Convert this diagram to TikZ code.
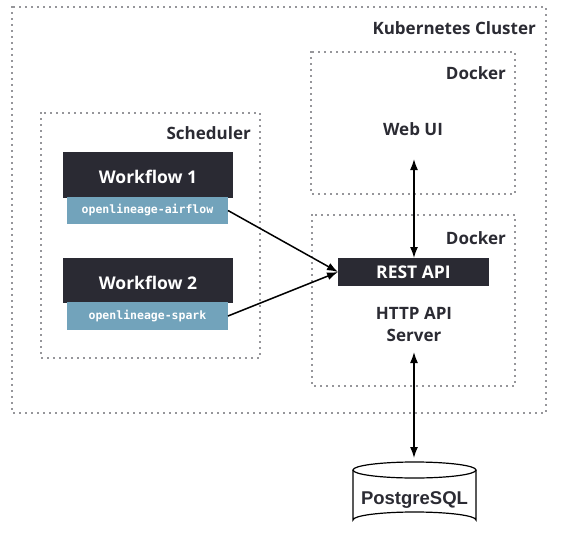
\documentclass[tikz,border=0pt]{standalone}
\usepackage{fontspec}
\setmainfont{Open Sans}
\newfontfamily\labfont{Open Sans}
\newfontfamily\monofont{DejaVu Sans Mono}
\newfontfamily\pgfont{Liberation Sans}
\usetikzlibrary{arrows.meta}
\definecolor{darkbox}{HTML}{2A2A33}
\definecolor{bluebox}{HTML}{72A3BB}
\definecolor{ink}{HTML}{2B2B33}
\tikzset{
  dotbox/.style={draw=ink, line width=1.8pt, line cap=round, dash pattern=on 0pt off 6pt},
  lbl/.style={text=ink, font=\labfont\bfseries\fontsize{17}{20}\selectfont, inner sep=0pt},
  darkrect/.style={fill=darkbox, draw=none},
  bluerect/.style={fill=bluebox, draw=none},
  darktxt/.style={text=white, font=\labfont\bfseries\fontsize{17.5}{20}\selectfont, inner sep=0pt},
  monotxt/.style={text=white, font=\monofont\bfseries\fontsize{11.5}{14}\selectfont, inner sep=0pt},
  arr/.style={line width=1.5pt, draw=black, {Latex[length=11pt,width=8pt]}-{Latex[length=11pt,width=8pt]}},
  arrone/.style={line width=1.5pt, draw=black, -{Latex[length=11pt,width=8pt]}},
  cyl/.style={draw=black, line width=1.2pt, fill=white},
}
\begin{document}
\begin{tikzpicture}[x=1pt,y=-1pt]
\useasboundingbox (0,0) rectangle (566,547);
% containers
\draw[dotbox] (12,7) rectangle (546,413);
\node[lbl, anchor=east] (kc) at (536,28) {Kubernetes Cluster};
\draw[dotbox] (311,52) rectangle (515,194);
\node[lbl, anchor=east] (d1) at (506,73) {Docker};
\node[lbl] (webui) at (413,129) {Web UI};
\draw[dotbox] (312,215) rectangle (515,386);
\node[lbl, anchor=east] (d2) at (506,238) {Docker};
\draw[dotbox] (41,113) rectangle (260,358);
\node[lbl, anchor=east] (sch) at (251,133) {Scheduler};
% REST API
\draw[darkrect] (338,258) rectangle (489,286);
\node[darktxt] (rest) at (413.5,272) {REST API};
\coordinate (restW) at (338,272);
\coordinate (restN) at (414,258);
\node[lbl, align=center, font=\labfont\bfseries\fontsize{17}{22}\selectfont] (http) at (414,324) {HTTP API\\Server};
% workflows
\draw[darkrect] (63,152) rectangle (233,198);
\node[darktxt] (wf1) at (148,177) {Workflow 1};
\draw[bluerect] (67,197) rectangle (228,224);
\node[monotxt] (air) at (147.5,210.5) {openlineage-airflow};
\coordinate (airE) at (228,210.5);
\draw[darkrect] (63,258) rectangle (233,303);
\node[darktxt] (wf2) at (148,283) {Workflow 2};
\draw[bluerect] (67,302) rectangle (228,330);
\node[monotxt] (spark) at (147.5,316) {openlineage-spark};
\coordinate (sparkE) at (228,316);
% PostgreSQL cylinder
\draw[cyl] (353,470) -- (353,520) arc[start angle=180, end angle=360, x radius=61.5, y radius=8] -- (476,470);
\draw[cyl] (414.5,470) ellipse [x radius=61.5, y radius=8];
\node[font=\pgfont\bfseries\fontsize{18.5}{22}\selectfont, text=ink, inner sep=0pt] (pg) at (414.5,500) {PostgreSQL};
\coordinate (pgN) at (414,458);
\coordinate (httpS) at (414,352);
\coordinate (webS) at (414,159);
% arrows
\draw[arrone] (airE) -- (restW);
\draw[arrone] (sparkE) -- (restW);
\draw[arr] (webS) -- (restN);
\draw[arr] (httpS) -- (pgN);
\end{tikzpicture}
\end{document}
